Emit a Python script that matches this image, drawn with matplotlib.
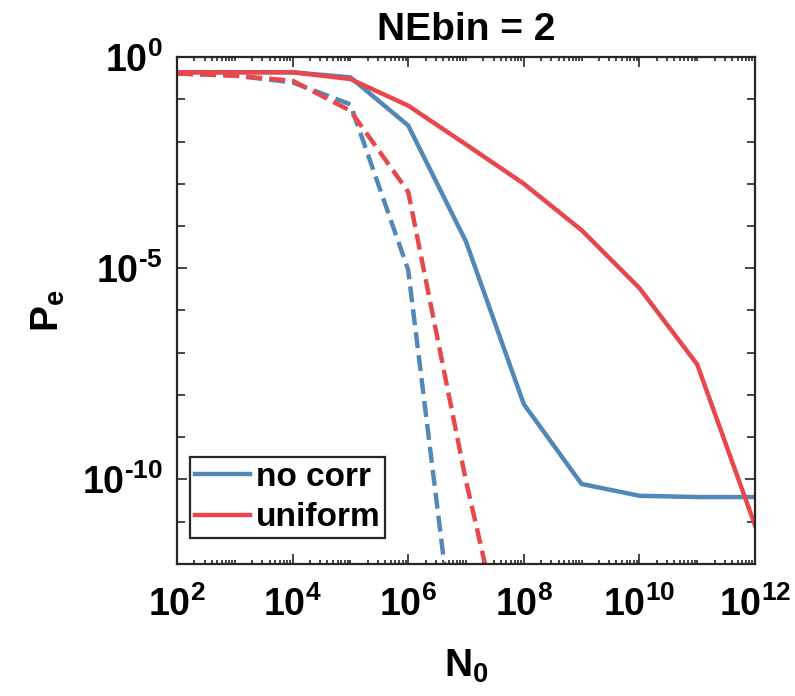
import matplotlib
matplotlib.use("Agg")
import matplotlib.pyplot as plt
import numpy as np
from matplotlib.ticker import FixedLocator, FuncFormatter, LogLocator, NullFormatter

plt.rcParams['font.family'] = ['Liberation Sans', 'DejaVu Sans']
plt.rcParams['font.weight'] = 'bold'
plt.rcParams['mathtext.fontset'] = 'custom'
plt.rcParams['mathtext.rm'] = 'Liberation Sans:bold'
plt.rcParams['mathtext.bf'] = 'Liberation Sans:bold'
plt.rcParams['mathtext.it'] = 'Liberation Sans:bold'

# N0 values (log10) and error probabilities (log10)
n0_exp = [2, 3, 4, 5, 6, 7, 8, 9, 10, 11, 12]
nocorr_solid = [-0.36, -0.36, -0.36, -0.48, -1.62, -4.37, -8.22, -10.11, -10.39, -10.42, -10.42]
uniform_solid = [-0.36, -0.36, -0.36, -0.52, -1.15, -2.07, -3.0, -4.10, -5.47, -7.28, -11.09]

n0_exp_dash = [2, 3, 4, 5, 6, 7, 8]
nocorr_dash = [-0.39, -0.44, -0.60, -1.12, -5.04, -16.2, -30.0]
uniform_dash = [-0.39, -0.44, -0.56, -1.27, -3.19, -10.04, -16.0]

blue = '#5288b8'
red = '#e8474c'

fig = plt.figure(figsize=(7.95, 6.96), dpi=100)
ax = fig.add_axes([0.2226, 0.190, 0.7271, 0.728])

x = 10.0 ** np.array(n0_exp)
xd = 10.0 ** np.array(n0_exp_dash)
ax.plot(x, 10.0 ** np.array(nocorr_solid), color=blue, lw=3.2, label='no corr')
ax.plot(xd, 10.0 ** np.array(nocorr_dash), color=blue, lw=3.2, ls=(0, (3.6, 1.6)))
ax.plot(x, 10.0 ** np.array(uniform_solid), color=red, lw=3.2, label='uniform')
ax.plot(xd, 10.0 ** np.array(uniform_dash), color=red, lw=3.2, ls=(0, (3.6, 1.6)))

ax.set_xscale('log')
ax.set_yscale('log')
ax.set_xlim(1e2, 1e12)
ax.set_ylim(1e-12, 1e0)

ax.xaxis.set_major_locator(FixedLocator([1e2, 1e4, 1e6, 1e8, 1e10, 1e12]))
ax.xaxis.set_minor_locator(LogLocator(base=10, subs=np.arange(1, 10), numticks=50))
ax.xaxis.set_minor_formatter(NullFormatter())
ax.yaxis.set_major_locator(FixedLocator([1e-10, 1e-5, 1e0]))
ax.yaxis.set_minor_locator(FixedLocator([10.0 ** k for k in range(-12, 1)]))
ax.yaxis.set_minor_formatter(NullFormatter())


def sci(v, p):
    e = int(round(np.log10(v)))
    if e < 0:
        return r'$\mathbf{10^{\text{-}%d}}$' % (-e)
    return r'$\mathbf{10^{%d}}$' % e


ax.xaxis.set_major_formatter(FuncFormatter(sci))
ax.yaxis.set_major_formatter(FuncFormatter(sci))

ax.tick_params(which='both', direction='in', top=True, right=True,
               labelsize=27, color='#262626', width=1.2)
ax.tick_params(which='major', length=7)
ax.tick_params(axis='x', which='minor', length=3)
ax.tick_params(axis='y', which='minor', length=6)
ax.tick_params(axis='x', which='major', pad=16)
ax.tick_params(axis='y', which='major', pad=10)
for s in ax.spines.values():
    s.set_linewidth(1.6)
    s.set_color('#262626')

ax.set_title('NEbin = 2', fontsize=28, fontweight='bold', pad=12)
ax.set_xlabel(r'$\mathbf{N_0}$', fontsize=28)
ax.xaxis.set_label_coords(0.5, -0.165)
ax.set_ylabel(r'$\mathbf{P_e}$', fontsize=28)
ax.yaxis.set_label_coords(-0.19, 0.5)

leg = ax.legend(loc='lower left', bbox_to_anchor=(0.0225, 0.051), fontsize=24,
                frameon=True, fancybox=False, edgecolor='#262626',
                handlelength=1.65, borderpad=0.14, labelspacing=0.28,
                handletextpad=0.18, borderaxespad=0.0)
leg.get_frame().set_linewidth(1.6)
leg.get_frame().set_alpha(1)

fig.savefig('out.png', dpi=100)
